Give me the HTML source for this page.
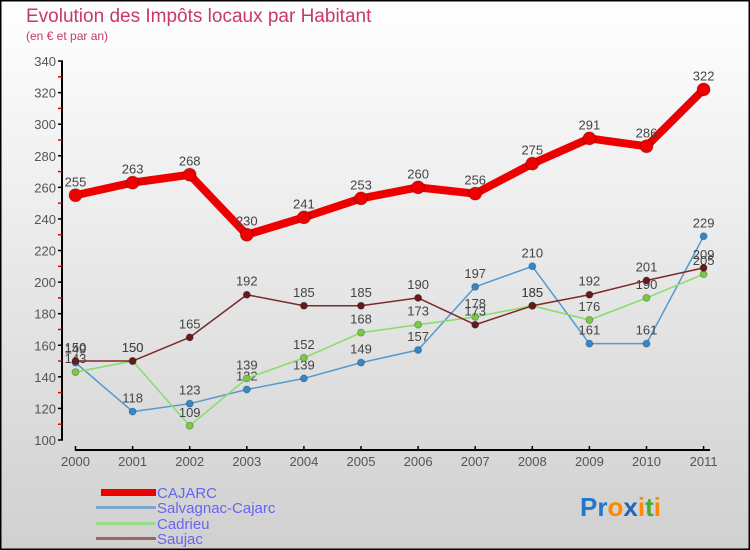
<!DOCTYPE html>
<html><head><meta charset="utf-8"><style>
html,body{margin:0;padding:0}
body{width:750px;height:550px;overflow:hidden;font-family:"Liberation Sans",sans-serif}
svg{display:block}
</style></head><body>
<svg id="chart" width="750" height="550" xmlns="http://www.w3.org/2000/svg">
<defs><linearGradient id="bg" x1="0" y1="0" x2="0" y2="1"><stop offset="0" stop-color="#ffffff"/><stop offset="1" stop-color="#d0d0d0"/></linearGradient></defs>
<rect x="0.5" y="0.5" width="749" height="549" fill="url(#bg)" stroke="#000" stroke-width="2"/>
<text x="26" y="22" font-size="19" fill="#c8386a">Evolution des Impôts locaux par Habitant</text>
<text x="26" y="40" font-size="12" fill="#c8386a">(en € et par an)</text>
<g id="axes"></g>
<g id="series"></g>
<g font-size="15" fill="#6666ee">
<rect x="101" y="489" width="55" height="7" fill="#ee0000"/>
<text x="157" y="498" fill="#6666ee">CAJARC</text>
<rect x="96" y="506" width="60" height="3" fill="#7fa8cc"/>
<text x="157" y="513" fill="#6666ee">Salvagnac-Cajarc</text>
<rect x="96" y="522" width="60" height="3" fill="#99dd88"/>
<text x="157" y="529" fill="#6666ee">Cadrieu</text>
<rect x="96" y="537" width="60" height="3" fill="#996666"/>
<text x="157" y="544" fill="#6666ee">Saujac</text>
</g>
<text x="580" y="516" font-size="26" font-weight="bold"><tspan fill="#2277cc">Pr</tspan><tspan fill="#ff8800">o</tspan><tspan fill="#2266bb">x</tspan><tspan fill="#ff8800">i</tspan><tspan fill="#44aa33">t</tspan><tspan fill="#ff8800">i</tspan></text>
</svg>
<script>
const years=[2000,2001,2002,2003,2004,2005,2006,2007,2008,2009,2010,2011];
const yTicks=[100,120,140,160,180,200,220,240,260,280,300,320,340];
const cajarc=[255,263,268,230,241,253,260,256,275,291,286,322];
const salvagnac=[149,118,123,132,139,149,157,197,210,161,161,229];
const cadrieu=[143,150,109,139,152,168,173,178,185,176,190,205];
const saujac=[150,150,165,192,185,185,190,173,185,192,201,209];
const NS='http://www.w3.org/2000/svg';
function xs(i){return 75.5+i*57.1;}
function ys(v){return 440-(v-100)*1.579;}
function mk(tag,attrs,parent){const e=document.createElementNS(NS,tag);for(const k in attrs)e.setAttribute(k,attrs[k]);parent.appendChild(e);return e;}
const ax=document.getElementById('axes');
let l=mk('line',{x1:62,y1:61,x2:62,y2:440,stroke:'#000','stroke-width':2},ax);


yTicks.forEach(v=>{
 const t=mk('line',{x1:58,y1:ys(v),x2:63,y2:ys(v),stroke:'#000','stroke-width':1.5},ax);
 
 
 if(v<340){const m=mk('line',{x1:58,y1:ys(v+10),x2:62,y2:ys(v+10),stroke:'#e00','stroke-width':1.5},ax);
 
 }
 const tx=mk('text',{x:56,y:ys(v)+5,'text-anchor':'end','font-size':13,fill:'#555'},ax);
 tx.textContent=v;
 
 
});
l=mk('line',{x1:75,y1:450,x2:710,y2:450,stroke:'#000','stroke-width':2},ax);


years.forEach((y,i)=>{
 const t=mk('line',{x1:xs(i),y1:446,x2:xs(i),y2:451,stroke:'#000','stroke-width':1.5},ax);
 
 
 const tx=mk('text',{x:xs(i),y:466,'text-anchor':'middle','font-size':13,fill:'#555'},ax);
 tx.textContent=y;
 
 
});
const sg=document.getElementById('series');
function draw(name,vals,color,dot,w,r){
 const g=mk('g',{},sg);
 
 
 const pl=mk('polyline',{points:vals.map((v,i)=>xs(i)+','+ys(v)).join(' '),fill:'none',stroke:color,'stroke-width':w,'stroke-linejoin':'round'},g);
 
 
 vals.forEach((v,i)=>{
  const c=mk('circle',{cx:xs(i),cy:ys(v),r:r,fill:dot,stroke:'rgba(0,0,0,0.25)','stroke-width':1},g);
  
  
  const t=mk('text',{x:xs(i),y:ys(v)-9,'text-anchor':'middle','font-size':13,fill:'#444'},g);
  t.textContent=v;
  
  
 });
}
draw('salvagnac',salvagnac,'#5599cc','#3388cc',1.5,3.5);
draw('cadrieu',cadrieu,'#88dd66','#77cc44',1.5,3.5);
draw('saujac',saujac,'#7a2a2a','#661a1a',1.5,3.5);
draw('cajarc',cajarc,'#ee0000','#ee0000',8,6.5);
</script>
</body></html>
